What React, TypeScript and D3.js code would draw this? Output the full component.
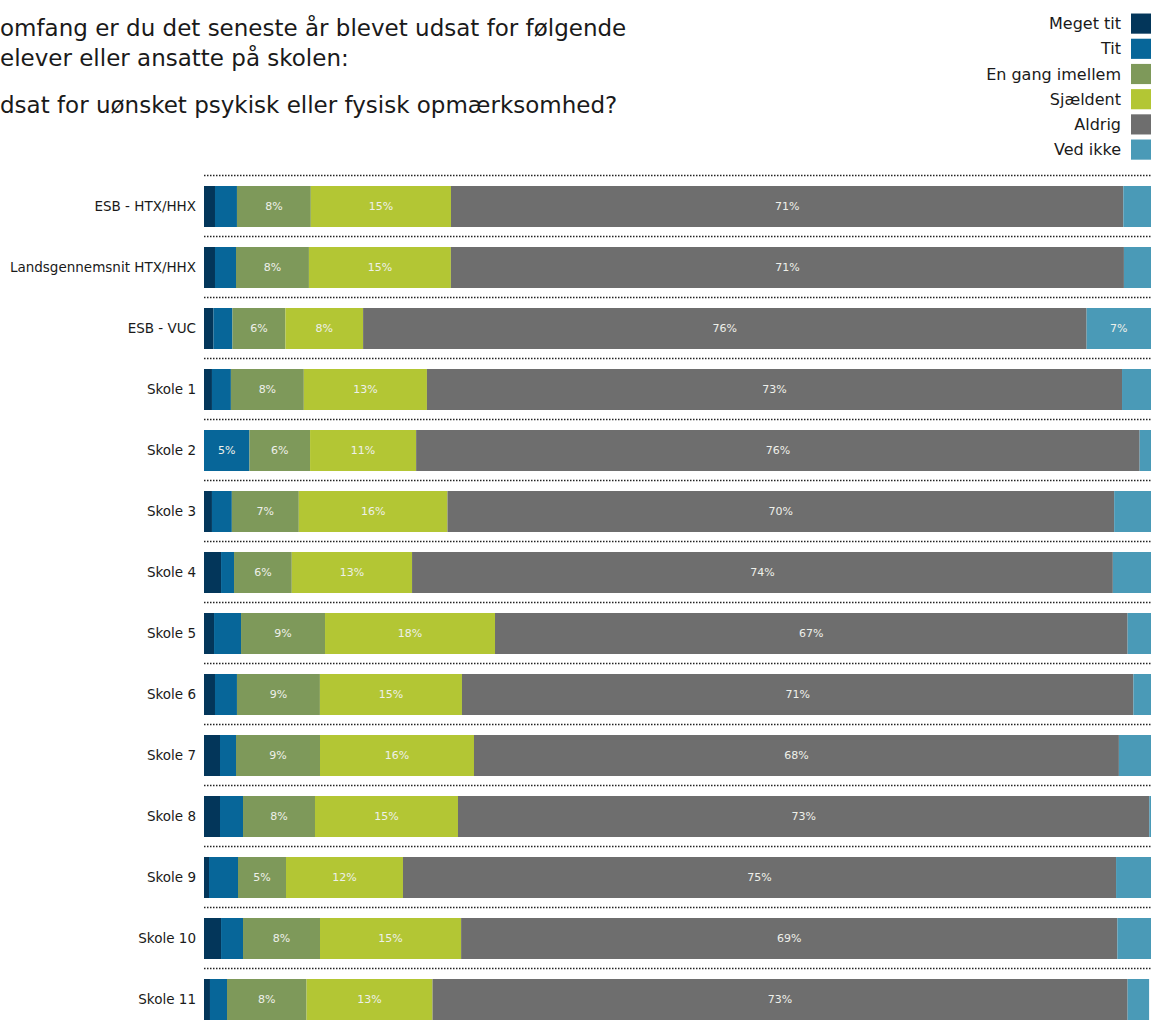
import React from "react";
import * as d3 from "d3";

const categories = [
  "ESB - HTX/HHX",
  "Landsgennemsnit HTX/HHX",
  "ESB - VUC",
  "Skole 1",
  "Skole 2",
  "Skole 3",
  "Skole 4",
  "Skole 5",
  "Skole 6",
  "Skole 7",
  "Skole 8",
  "Skole 9",
  "Skole 10",
  "Skole 11",
];

const seriesNames = ["Meget tit", "Tit", "En gang imellem", "Sjældent", "Aldrig", "Ved ikke"];
const seriesColors = ["#03365a", "#076699", "#7e995a", "#b3c634", "#6e6e6e", "#4a9ab7"];

const megetTit = [1.16, 1.16, 1.0, 0.84, 0, 0.84, 1.8, 1.06, 1.16, 1.69, 1.69, 0.53, 1.8, 0.63];
const tit = [2.32, 2.22, 2.0, 2.0, 4.8, 2.1, 1.37, 2.85, 2.32, 1.69, 2.43, 3.06, 2.32, 1.8];
const enGang = [7.8, 7.7, 5.6, 7.7, 6.4, 7.07, 6.1, 8.87, 8.76, 8.87, 7.6, 5.07, 8.13, 8.4];
const sjaeldent = [14.8, 14.99, 8.2, 13.0, 11.2, 15.7, 12.7, 17.95, 15.0, 16.26, 15.1, 12.35, 14.9, 13.3];
const aldrig = [71.0, 71.07, 76.4, 73.4, 76.4, 70.4, 74.0, 66.8, 70.9, 68.1, 73.0, 75.3, 69.3, 73.4];
const vedIkke = [2.92, 2.86, 6.8, 3.06, 1.2, 3.89, 4.03, 2.47, 1.86, 3.39, 0.18, 3.69, 3.55, 2.27];

const titleLines = [
  "omfang er du det seneste år blevet udsat for følgende",
  "elever eller ansatte på skolen:",
  "dsat for uønsket psykisk eller fysisk opmærksomhed?",
];

const W = 1151;
const H = 1023;
const FONT = "'DejaVu Sans', Verdana, sans-serif";

export default function App() {
  const data = categories.map((c, i) => ({
    cat: c,
    "Meget tit": megetTit[i],
    Tit: tit[i],
    "En gang imellem": enGang[i],
    "Sjældent": sjaeldent[i],
    Aldrig: aldrig[i],
    "Ved ikke": vedIkke[i],
  }));

  const stacked = d3.stack<any>().keys(seriesNames)(data);

  const x = d3.scaleLinear().domain([0, 100]).range([204, 1151]);
  const y = d3
    .scaleBand<string>()
    .domain(categories)
    .range([176, 176 + 14 * 61])
    .paddingInner(20 / 61)
    .paddingOuter(10 / 61);

  const legendY = d3
    .scaleBand<string>()
    .domain(seriesNames)
    .range([11, 11 + 6 * 25.2])
    .paddingInner(0.2)
    .paddingOuter(0.1);

  return (
    <svg
      width={W}
      height={H}
      style={{ position: "absolute", left: 0, top: 0, background: "#fff" }}
      fontFamily={FONT}
    >
      <rect x={0} y={0} width={W} height={H} fill="#fff" />
      {/* Title */}
      <g fill="#1a1a1a" fontSize={23}>
        <text x={0} y={36}>{titleLines[0]}</text>
        <text x={0} y={66}>{titleLines[1]}</text>
        <text x={0} y={113}>{titleLines[2]}</text>
      </g>

      {/* Legend */}
      <g>
        {seriesNames.map((s, i) => (
          <g key={s}>
            <rect x={1131} y={legendY(s)!} width={20} height={legendY.bandwidth()} fill={seriesColors[i]} />
            <text
              x={1121}
              y={legendY(s)! + legendY.bandwidth() / 2}
              dy="0.35em"
              textAnchor="end"
              fontSize={16}
              fill="#1a1a1a"
            >
              {s}
            </text>
          </g>
        ))}
      </g>

      {/* Dotted separators */}
      {categories.map((c) => (
        <line
          key={"l" + c}
          x1={x(0)}
          x2={x(100)}
          y1={y(c)! - 10.5}
          y2={y(c)! - 10.5}
          stroke="#222"
          strokeWidth={1.6}
          strokeDasharray="1.5,1.5"
        />
      ))}

      {/* Category labels */}
      {categories.map((c) => (
        <text
          key={"c" + c}
          x={196}
          y={y(c)! + y.bandwidth() / 2}
          dy="0.35em"
          textAnchor="end"
          fontSize={13.5}
          fill="#1a1a1a"
        >
          {c}
        </text>
      ))}

      {/* Bars */}
      {stacked.map((layer, si) => (
        <g key={layer.key} fill={seriesColors[si]}>
          {layer.map((d, i) => (
            <rect
              key={i}
              x={x(d[0])}
              y={y(categories[i])!}
              width={Math.max(0, x(d[1]) - x(d[0]))}
              height={y.bandwidth()}
            />
          ))}
        </g>
      ))}

      {/* Value labels */}
      {stacked.map((layer) => (
        <g key={"t" + layer.key}>
          {layer.map((d, i) => {
            const v = d[1] - d[0];
            if (v < 4.5) return null;
            return (
              <text
                key={i}
                x={(x(d[0]) + x(d[1])) / 2}
                y={y(categories[i])! + y.bandwidth() / 2}
                dy="0.35em"
                textAnchor="middle"
                fontSize={11}
                fill="#eef0ea"
              >
                {Math.round(v) + "%"}
              </text>
            );
          })}
        </g>
      ))}
    </svg>
  );
}
